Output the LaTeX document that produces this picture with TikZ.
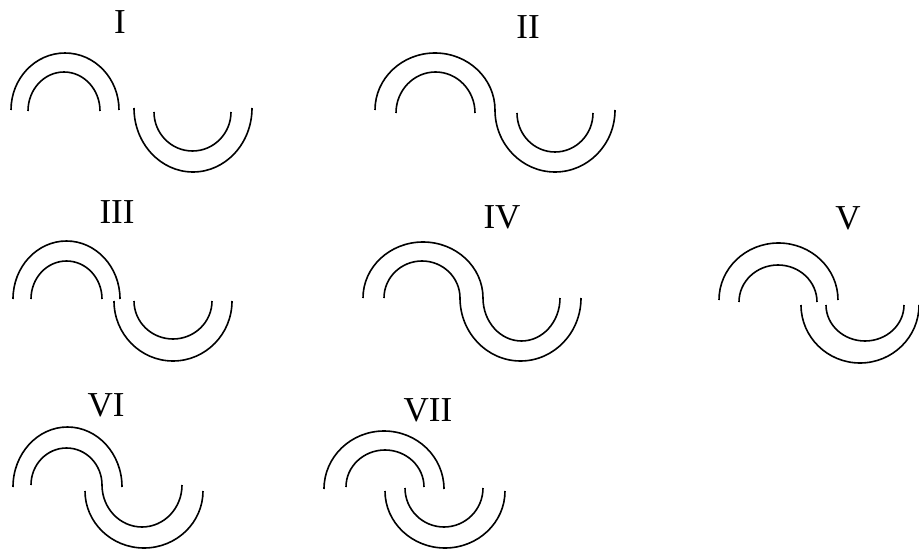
\documentclass[tikz,border=0pt]{standalone}
\usepackage{fontspec}
\setmainfont{Liberation Serif}
\usepackage{tikz}

\begin{document}
\begin{tikzpicture}[
  x=1pt,y=1pt,
  strand/.style={draw,line width=1.6pt},
  hump/.style={start angle=180,end angle=0},
  dip/.style={start angle=180,end angle=360},
  numeral/.style={inner sep=0pt,font=\fontsize{35}{38}\selectfont}]
  \useasboundingbox (0,0) rectangle (919,550);
  \node[numeral] (labI) at (120,528) {I};
  \draw[strand] (11,440) arc[hump,x radius=54,y radius=57];
  \draw[strand] (28,439) arc[hump,x radius=36,y radius=39];
  \draw[strand] (134,442) arc[dip,x radius=59,y radius=64];
  \draw[strand] (154,438) arc[dip,x radius=38.5,y radius=39];
  \node[numeral] (labII) at (528,523) {II};
  \draw[strand] (375,440) arc[hump,x radius=60,y radius=57] arc[dip,x radius=60,y radius=62];
  \draw[strand] (396,437) arc[hump,x radius=39.5,y radius=41];
  \draw[strand] (517,437) arc[dip,x radius=38,y radius=39];
  \node[numeral] (labIII) at (117,338) {III};
  \draw[strand] (13,251) arc[hump,x radius=53.5,y radius=58];
  \draw[strand] (31,251) arc[hump,x radius=35.5,y radius=38];
  \draw[strand] (114,249) arc[dip,x radius=59,y radius=60];
  \draw[strand] (134,249) arc[dip,x radius=39,y radius=38];
  \node[numeral] (labIV) at (502,333) {IV};
  \draw[strand] (363,252) arc[hump,x radius=60,y radius=56] arc[dip,x radius=38.5,y radius=43];
  \draw[strand] (384,252) arc[hump,x radius=38,y radius=37] arc[dip,x radius=60.5,y radius=63];
  \node[numeral] (labV) at (848,332) {V};
  \draw[strand] (719,250) arc[hump,x radius=59.5,y radius=57];
  \draw[strand] (739,248) arc[hump,x radius=39,y radius=37];
  \draw[strand] (801,245) arc[dip,x radius=59,y radius=58];
  \draw[strand] (826,245) arc[dip,x radius=39,y radius=36];
  \node[numeral] (labVI) at (106,145) {VI};
  \draw[strand] (13,63) arc[hump,x radius=54.5,y radius=60];
  \draw[strand] (31,65) arc[hump,x radius=35.5,y radius=37] arc[dip,x radius=40,y radius=42];
  \draw[strand] (85,59) arc[dip,x radius=59,y radius=57];
  \node[numeral] (labVII) at (428,140) {VII};
  \draw[strand] (324,61) arc[hump,x radius=60,y radius=58];
  \draw[strand] (346,63) arc[hump,x radius=39,y radius=37];
  \draw[strand] (385,59) arc[dip,x radius=60,y radius=57];
  \draw[strand] (405,62) arc[dip,x radius=39,y radius=39];
\end{tikzpicture}
\end{document}
